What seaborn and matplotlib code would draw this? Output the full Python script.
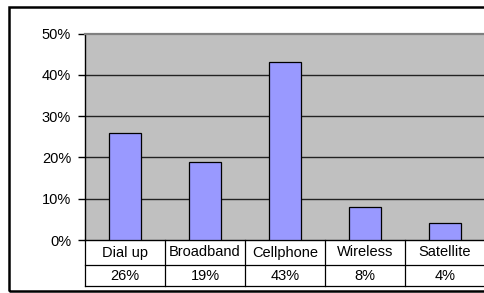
import matplotlib
matplotlib.use("Agg")
import matplotlib.pyplot as plt
import matplotlib.transforms as mtransforms
from matplotlib.patches import Rectangle
import seaborn as sns
import pandas as pd

# Data
categories = ["Dial up", "Broadband", "Cellphone", "Wireless", "Satellite"]
values = [0.26, 0.19, 0.43, 0.08, 0.04]
table_labels = ["26%", "19%", "43%", "8%", "4%"]
y_ticks = [0.0, 0.1, 0.2, 0.3, 0.4, 0.5]
y_tick_labels = ["0%", "10%", "20%", "30%", "40%", "50%"]

df = pd.DataFrame({"type": categories, "share": values})

plt.rcParams["font.family"] = ["Liberation Sans", "DejaVu Sans"]

W, H = 484, 293
fig = plt.figure(figsize=(W / 100, H / 100), dpi=100)

# plot area in pixels: x 85..485, y 33.5..240 (from top)
left, right, top, bottom = 85, 485, 33.5, 240
ax = fig.add_axes([left / W, (H - bottom) / H, (right - left) / W, (bottom - top) / H])
ax.set_facecolor("#C0C0C0")

sns.barplot(data=df, x="type", y="share", color="#9999FF", edgecolor="black",
            linewidth=0.9, width=0.41, saturation=1, ax=ax, zorder=3)

ax.set_xlim(-0.5, 4.5)
ax.set_ylim(0, 0.5)
ax.set_yticks(y_ticks)
ax.set_yticklabels(y_tick_labels, fontsize=10.5)
ax.set_xticks([])
ax.set_xlabel("")
ax.set_ylabel("")
ax.tick_params(axis="y", length=5, width=1, color="black", pad=5)

for y in y_ticks[1:-1]:
    ax.axhline(y, color="#222222", lw=1, zorder=1)

for side in ["left", "bottom"]:
    ax.spines[side].set_color("black")
    ax.spines[side].set_linewidth(1)
ax.spines["top"].set_color("#808080")
ax.spines["top"].set_linewidth(1.6)
ax.spines["right"].set_visible(False)

# data table under the plot
plot_h = bottom - top
row1 = -25 / plot_h
row2 = -46 / plot_h
trans = mtransforms.blended_transform_factory(ax.transData, ax.transAxes)
for xb in [-0.5, 0.5, 1.5, 2.5, 3.5, 4.5]:
    ax.plot([xb, xb], [0, row2], color="black", lw=0.9, transform=trans, clip_on=False)
for yb in [row1, row2]:
    ax.plot([-0.5, 4.6], [yb, yb], color="black", lw=0.9, transform=trans, clip_on=False)
for i, (cat, lab) in enumerate(zip(categories, table_labels)):
    ax.text(i, row1 / 2, cat, ha="center", va="center", fontsize=10.5, transform=trans)
    ax.text(i, (row1 + row2) / 2, lab, ha="center", va="center", fontsize=10.5, transform=trans)

# outer chart border
fig.patches.append(Rectangle((9 / W, (H - 291) / H), 1.0, (291 - 6.5) / H,
                             transform=fig.transFigure, fill=False,
                             edgecolor="black", lw=1.8))

plt.savefig("out.png", dpi=100)
